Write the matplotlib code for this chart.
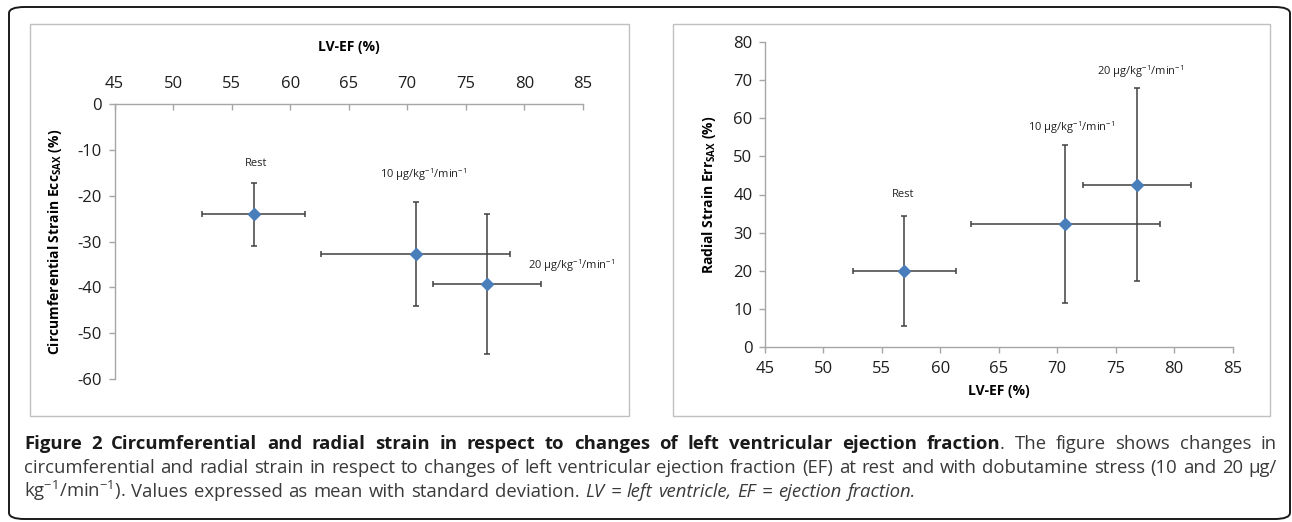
import matplotlib
matplotlib.use("Agg")
import matplotlib.pyplot as plt
from matplotlib.patches import Rectangle, FancyBboxPatch

W, H = 1292, 522

# data
conditions = ["Rest", "10 µg/kg$^{\\mathregular{-1}}$/min$^{\\mathregular{-1}}$",
              "20 µg/kg$^{\\mathregular{-1}}$/min$^{\\mathregular{-1}}$"]
lv_ef = [56.9, 70.7, 76.8]
lv_ef_sd = [4.4, 8.1, 4.6]
ecc = [-24.1, -32.7, -39.2]
ecc_sd = [6.8, 11.4, 15.3]
err = [19.9, 32.2, 42.6]
err_sd = [14.4, 20.7, 25.3]
x_ticks = [45, 50, 55, 60, 65, 70, 75, 80, 85]
ecc_ticks = [0, -10, -20, -30, -40, -50, -60]
err_ticks = [0, 10, 20, 30, 40, 50, 60, 70, 80]

# label anchor points (data coords)
ecc_lab_x = [57.1, 71.4, 84.0]
ecc_lab_y = [-12.9, -15.5, -35.3]
err_lab_x = [56.8, 71.2, 77.1]
err_lab_y = [40.0, 57.6, 72.2]

plt.rcParams['font.family'] = ['Open Sans', 'DejaVu Sans']
plt.rcParams['mathtext.fontset'] = 'custom'
plt.rcParams['mathtext.rm'] = 'Open Sans'
plt.rcParams['mathtext.bf'] = 'Open Sans:bold'
plt.rcParams['axes.unicode_minus'] = False

fig = plt.figure(figsize=(W / 100, H / 100), dpi=100)


def fbox(x0, y0, x1, y1):
    # pixel box (top-left origin) -> figure fraction [l, b, w, h]
    return [x0 / W, 1 - y1 / H, (x1 - x0) / W, (y1 - y0) / H]


# outer rounded frame
fig.patches.append(FancyBboxPatch((9 / W, 1 - 519 / H), 1281 / W, 512 / H,
                                  boxstyle="round,pad=0,rounding_size=0.012",
                                  transform=fig.transFigure, fill=False,
                                  ec='#1a1a1a', lw=1.4))
# panel frames
for x0, x1 in [(30, 629), (673, 1270)]:
    l, b, w, h = fbox(x0, 24, x1, 416)
    fig.patches.append(Rectangle((l, b), w, h, transform=fig.transFigure,
                                 fill=False, ec='#c0c0c0', lw=1.0))

axis_col = '#a6a6a6'
err_col = '#404040'
pt_col = '#4a7ebb'


def draw(ax, y, ysd, lab_x, lab_y):
    ax.errorbar(lv_ef, y, xerr=lv_ef_sd, yerr=ysd, fmt='D', ms=6.5,
                mfc=pt_col, mec=pt_col, ecolor=err_col, elinewidth=1.1,
                capsize=2.5, capthick=1.1, zorder=3)
    for i, c in enumerate(conditions):
        ax.text(lab_x[i], lab_y[i], c, fontsize=8, ha='center', va='center',
                color='#222222', clip_on=False)
    ax.set_xlim(45, 85)
    ax.set_xticks(x_ticks)
    for s in ax.spines.values():
        s.set_color(axis_col)
        s.set_linewidth(1.0)
    ax.tick_params(colors=axis_col, labelcolor='#1e1e1e', labelsize=12,
                   length=4, width=1.0)
    ax.set_facecolor('none')


ax1 = fig.add_axes(fbox(114.5, 104, 583, 379))
draw(ax1, ecc, ecc_sd, ecc_lab_x, ecc_lab_y)
ax1.set_ylim(-60, 0)
ax1.set_yticks(ecc_ticks)
ax1.xaxis.tick_top()
ax1.xaxis.set_label_position('top')
ax1.spines['bottom'].set_visible(False)
ax1.spines['right'].set_visible(False)
ax1.tick_params(axis='x', direction='in', pad=9)
ax1.tick_params(axis='y', direction='out', pad=5)
ax1.set_xlabel('LV-EF (%)', fontsize=10, fontweight='bold', labelpad=18)
ax1.set_ylabel('Circumferential Strain Ecc$_{\\mathbf{SAX}}$ (%)',
               fontsize=10, fontweight='bold', labelpad=10)

ax2 = fig.add_axes(fbox(765, 42, 1232.6, 347))
draw(ax2, err, err_sd, err_lab_x, err_lab_y)
ax2.set_ylim(0, 80)
ax2.set_yticks(err_ticks)
ax2.spines['top'].set_visible(False)
ax2.spines['right'].set_visible(False)
ax2.tick_params(axis='x', direction='out', pad=6)
ax2.tick_params(axis='y', direction='out', pad=5)
ax2.set_xlabel('LV-EF (%)', fontsize=10, fontweight='bold', labelpad=5)
ax2.set_ylabel('Radial Strain Err$_{\\mathbf{SAX}}$ (%)',
               fontsize=10, fontweight='bold', labelpad=11)

# caption, justified word by word
sup = "$^{\\mathregular{-1}}$"
line1 = [[("Figure", 'b')], [("2", 'b')], [("Circumferential", 'b')], [("and", 'b')],
         [("radial", 'b')], [("strain", 'b')], [("in", 'b')], [("respect", 'b')],
         [("to", 'b')], [("changes", 'b')], [("of", 'b')], [("left", 'b')],
         [("ventricular", 'b')], [("ejection", 'b')], [("fraction", 'b'), (".", 'r')],
         [("The", 'r')], [("figure", 'r')], [("shows", 'r')], [("changes", 'r')], [("in", 'r')]]
line2 = [[(w, 'r')] for w in ("circumferential and radial strain in respect to changes of left "
                              "ventricular ejection fraction (EF) at rest and with dobutamine "
                              "stress (10 and 20 µg/").split()]
line3 = [[(w, 'r')] for w in ("kg" + sup + "/min" + sup + "). Values expressed as mean with "
                              "standard deviation.").split()]
line3 += [[(w, 'i')] for w in "LV = left ventricle, EF = ejection fraction.".split()]

styles = {'b': dict(fontweight='bold', color='#1a1a1a'),
          'r': dict(color='#3a3a3a'),
          'i': dict(style='italic', color='#3a3a3a')}

cap_x0, cap_x1 = 24, 1277
cap_y = [449, 473, 497]
fs = 13.3
renderer = fig.canvas.get_renderer()


def width_of(t):
    return t.get_window_extent(renderer).width


for li, (line, justify) in enumerate([(line1, True), (line2, True), (line3, False)]):
    y = 1 - cap_y[li] / H
    words = []
    for word in line:
        pieces = []
        for txt, st in word:
            t = fig.text(0, y, txt, fontsize=fs, va='baseline', ha='left', **styles[st])
            pieces.append(t)
        words.append(pieces)
    widths = [[width_of(p) for p in w] for w in words]
    total = sum(sum(w) for w in widths)
    t_ab = fig.text(0, 0, "a b", fontsize=fs)
    t_a = fig.text(0, 0, "a", fontsize=fs)
    sp = width_of(t_ab) - 2 * width_of(t_a)
    t_ab.remove()
    t_a.remove()
    if justify:
        gap = (cap_x1 - cap_x0 - total) / (len(words) - 1)
    else:
        gap = sp
    x = cap_x0
    for pieces, ws in zip(words, widths):
        for p, wpx in zip(pieces, ws):
            p.set_x(x / W)
            x += wpx
        x += gap

fig.savefig("out.png", dpi=100)
